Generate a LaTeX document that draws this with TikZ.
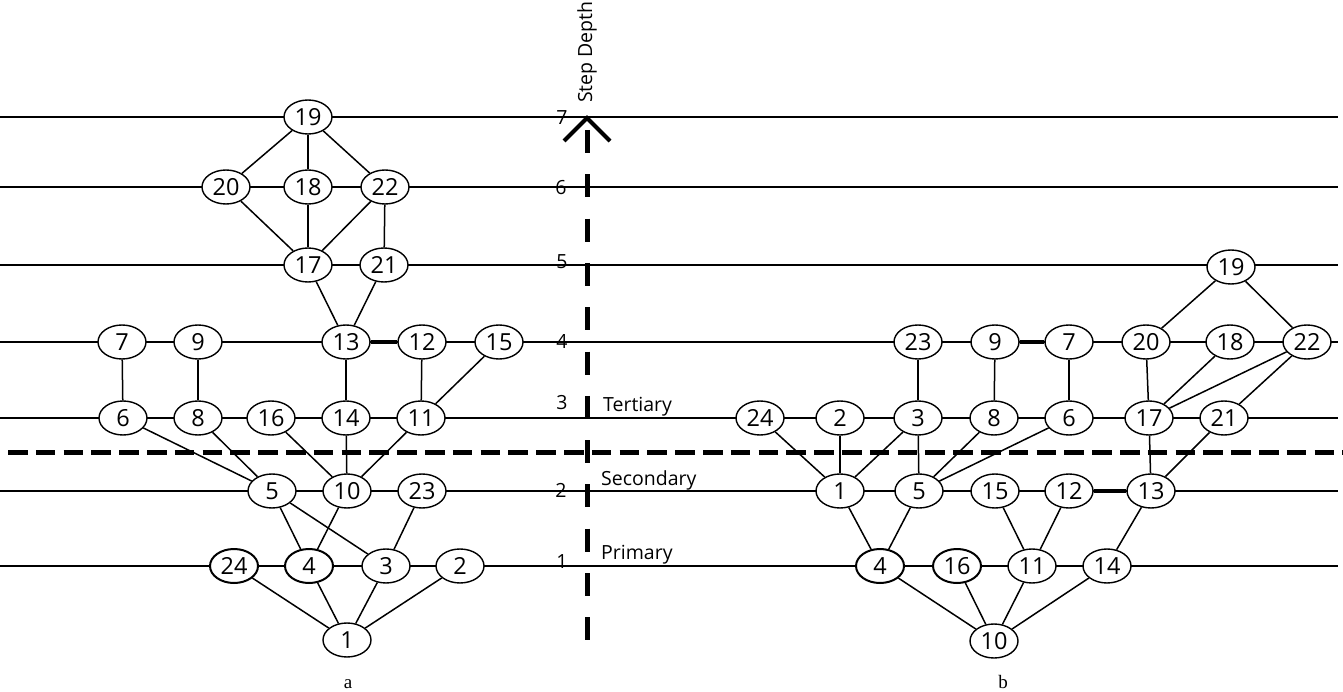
\documentclass[tikz,border=0pt]{standalone}
\usepackage{fontspec}
\setmainfont{Open Sans}
\newfontfamily\capfont{Liberation Serif}
\usetikzlibrary{shapes.geometric}
\begin{document}
\begin{tikzpicture}[x=1pt,y=-1pt,
 lvl/.style={line width=1.3pt},
 nd/.style={ellipse,draw,fill=white,line width=1.4pt,minimum width=48pt,minimum height=34pt,inner sep=0pt,font=\fontsize{23.5}{23.5}\selectfont},
 ndb/.style={nd,line width=2pt},
 ed/.style={line width=1.5pt},
 edb/.style={line width=3.2pt},
 dep/.style={font=\fontsize{19.5}{20}\selectfont,inner sep=0pt},
 captxt/.style={font=\capfont\fontsize{19}{19}\selectfont,inner sep=0pt},
]
\useasboundingbox (0,0) rectangle (1343,692);
% level lines
\foreach \yy in {117,187,265,342,418,491,566}{\draw[lvl] (0,\yy) -- (1338,\yy);}
% dashed horizontal separator
\coordinate (hsL) at (8,452);
\coordinate (hsR) at (1343,452);
\draw[line width=5pt,dash pattern=on 19.5pt off 8.3pt] (hsL) -- (hsR);
% vertical axis
\coordinate (vaT) at (587,130);
\coordinate (vaB) at (587,640);
\draw[line width=5pt,dash pattern=on 23pt off 21.3pt] (vaT) -- (vaB);
\coordinate (chA) at (564,141);
\coordinate (chT) at (587,118);
\coordinate (chB) at (610,141);
\draw[line width=4pt] (chA) -- (chT) -- (chB);
\node[dep,rotate=90,anchor=west] (sd) at (587,103) {Step Depth};
% depth numbers
\node[dep] (d7) at (562,118) {7};
\node[dep] (d6) at (561,188) {6};
\node[dep] (d5) at (562,262) {5};
\node[dep] (d4) at (562,342) {4};
\node[dep] (d3) at (562,403) {3};
\node[dep] (d2) at (561,490) {2};
\node[dep] (d1) at (562,562) {1};
\node[dep,anchor=west] (lt) at (603,407) {Tertiary};
\node[dep,anchor=west] (ls) at (601,480) {Secondary};
\node[dep,anchor=west] (lp) at (601,555) {Primary};
% ---------- graph a ----------
\node[nd] (a19) at (308,117) {19};
\node[nd] (a20) at (226,187) {20};
\node[nd] (a18) at (308,187) {18};
\node[nd] (a22) at (385,187) {22};
\node[nd] (a17) at (308,265) {17};
\node[nd] (a21) at (384,265) {21};
\node[nd] (a7) at (122,342) {7};
\node[nd] (a9) at (198,342) {9};
\node[nd] (a13) at (346,342) {13};
\node[nd] (a12) at (422,342) {12};
\node[nd] (a15) at (499,342) {15};
\node[nd] (a6) at (123,418) {6};
\node[nd] (a8) at (198,418) {8};
\node[nd] (a16) at (271,418) {16};
\node[nd] (a14) at (346,418) {14};
\node[nd] (a11) at (421,418) {11};
\node[nd] (a5) at (272,491) {5};
\node[nd] (a10) at (347,491) {10};
\node[nd] (a23) at (422,491) {23};
\node[ndb] (a24) at (234,566) {24};
\node[ndb] (a4) at (309,566) {4};
\node[nd] (a3) at (386,566) {3};
\node[nd] (a2) at (460,566) {2};
\node[nd] (a1) at (347,640) {1};
\foreach \p/\q in {19/20,19/18,19/22,20/17,18/17,22/17,22/21,17/13,21/13,13/14,12/11,15/11,7/6,9/8,6/5,8/5,16/10,14/10,11/10,5/4,5/3,10/4,23/3,24/1,4/1,3/1,2/1}
  {\draw[ed] (a\p) -- (a\q);}
\draw[edb] (a13) -- (a12);
\node[captxt,anchor=base] (ca) at (348,688) {a};
% ---------- graph b ----------
\node[nd] (b19) at (1231,267) {19};
\node[nd] (b23) at (918,342) {23};
\node[nd] (b9) at (995,342) {9};
\node[nd] (b7) at (1069,342) {7};
\node[nd] (b20) at (1146,342) {20};
\node[nd] (b18) at (1230,342) {18};
\node[nd] (b22) at (1307,342) {22};
\node[nd] (b24) at (760,418) {24};
\node[nd] (b2) at (840,418) {2};
\node[nd] (b3) at (918,418) {3};
\node[nd] (b8) at (994,418) {8};
\node[nd] (b6) at (1069,418) {6};
\node[nd] (b17) at (1149,418) {17};
\node[nd] (b21) at (1224,418) {21};
\node[nd] (b1) at (840,491) {1};
\node[nd] (b5) at (919,491) {5};
\node[nd] (b15) at (995,491) {15};
\node[nd] (b12) at (1069,491) {12};
\node[nd] (b13) at (1151,491) {13};
\node[ndb] (b4) at (880,566) {4};
\node[ndb] (b16) at (957,566) {16};
\node[nd] (b11) at (1032,566) {11};
\node[nd] (b14) at (1107,566) {14};
\node[nd] (b10) at (994,641) {10};
\foreach \p/\q in {19/20,19/22,20/17,18/17,22/17,22/21,23/3,9/8,7/6,24/1,2/1,3/1,3/5,8/5,6/5,17/13,21/13,1/4,5/4,15/11,12/11,13/14,4/10,16/10,11/10,14/10}
  {\draw[ed] (b\p) -- (b\q);}
\draw[edb] (b9) -- (b7);
\draw[edb] (b12) -- (b13);
\node[captxt,anchor=base] (cb) at (1003,688) {b};
\end{tikzpicture}
\end{document}
